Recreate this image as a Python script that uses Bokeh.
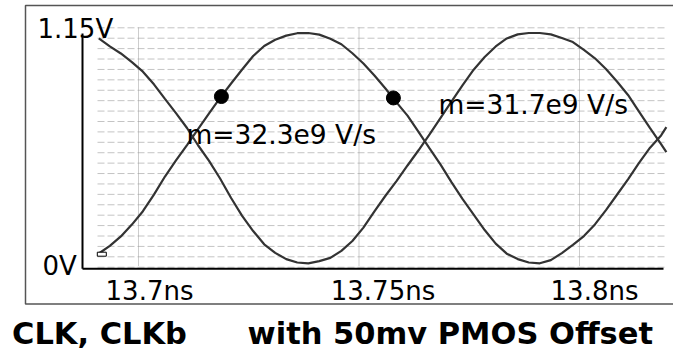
from bokeh.plotting import figure
from bokeh.models import Range1d
from bokeh.core.properties import value
from bokeh.embed import file_html
from bokeh.resources import INLINE

# ---- waveform samples -------------------------------------------------------
time_ns = [13.6910, 13.6935, 13.6960, 13.6985, 13.7010, 13.7035, 13.7060, 13.7085,
           13.7110, 13.7135, 13.7160, 13.7185, 13.7210, 13.7235, 13.7260, 13.7285,
           13.7310, 13.7335, 13.7360, 13.7385, 13.7410, 13.7435, 13.7460, 13.7485,
           13.7510, 13.7535, 13.7560, 13.7585, 13.7610, 13.7635, 13.7660, 13.7685,
           13.7710, 13.7735, 13.7760, 13.7785, 13.7810, 13.7835, 13.7860, 13.7885,
           13.7910, 13.7935, 13.7960, 13.7985, 13.8010, 13.8035, 13.8060, 13.8085,
           13.8110, 13.8135, 13.8160, 13.8185, 13.8197]

clk_v = [0.050, 0.088, 0.135, 0.194, 0.261, 0.344, 0.434, 0.514, 0.591, 0.671,
         0.749, 0.826, 0.898, 0.968, 1.035, 1.085, 1.116, 1.137, 1.149, 1.150,
         1.142, 1.121, 1.094, 1.049, 0.998, 0.938, 0.873, 0.804, 0.738, 0.657,
         0.574, 0.493, 0.405, 0.321, 0.244, 0.167, 0.099, 0.049, 0.022, 0.005,
         0.001, 0.017, 0.052, 0.093, 0.137, 0.195, 0.266, 0.343, 0.420, 0.502,
         0.578, 0.639, 0.680]

clkb_v = [1.123, 1.083, 1.048, 1.005, 0.957, 0.894, 0.821, 0.750, 0.676, 0.590,
          0.512, 0.424, 0.327, 0.238, 0.162, 0.096, 0.053, 0.022, 0.005, 0.001,
          0.012, 0.028, 0.063, 0.112, 0.179, 0.260, 0.338, 0.411, 0.489, 0.565,
          0.644, 0.727, 0.809, 0.890, 0.967, 1.030, 1.083, 1.123, 1.143, 1.150,
          1.150, 1.143, 1.125, 1.105, 1.066, 1.024, 0.970, 0.908, 0.841, 0.758,
          0.675, 0.596, 0.556]

# slope measurement points on CLK
marker_t = [13.7188, 13.7578]
marker_v = [0.833, 0.826]
slope_labels = ["m=32.3e9 V/s", "m=31.7e9 V/s"]

# axis ticks
x_ticks = [13.70, 13.75, 13.80]
x_tick_labels = ["13.7ns", "13.75ns", "13.8ns"]
y_ticks = [0.0, 1.15]
y_tick_labels = ["0V", "1.15V"]

title_parts = ["CLK, CLKb", "with 50mv PMOS Offset"]

# ---- layout (pixel geometry of the canvas) ----------------------------------
W, H = 673, 352
PX_PER_NS = 4410.0
PX_PER_V = 200.43
X_LEFT = 13.7 - 138 / PX_PER_NS      # time at the left canvas edge
V_TOP = 263 / PX_PER_V               # voltage at the top canvas edge
TEXT_RAISE = 9.5                     # baseline correction for the svg text


def xd(px):
    return X_LEFT + px / PX_PER_NS


def yd(py):
    return V_TOP - py / PX_PER_V


def yt(py):
    # baseline position for text drawn at pixel row py
    return yd(py - TEXT_RAISE)


FONT = value("DejaVu Sans")

p = figure(width=W, height=H,
           x_range=Range1d(xd(0), xd(W)), y_range=Range1d(yd(H), yd(0)),
           x_axis_type=None, y_axis_type=None,
           toolbar_location=None, output_backend="svg",
           min_border=0, title=None)
p.outline_line_color = None
p.background_fill_color = "white"
p.border_fill_color = "white"

# panel border (open on the right)
p.quad(left=xd(25), right=xd(720), top=yd(5), bottom=yd(303.5),
       fill_color=None, line_color="#555555", line_width=1.5)

# dashed horizontal grid
hgrid = [yd(27.3 + 10.41 * i) for i in range(24)]
p.multi_line(xs=[[xd(97), xd(665)] for _ in hgrid], ys=[[g, g] for g in hgrid],
             line_color="#c4c4c4", line_dash="7 3", line_width=1)
# dotted vertical grid at the time ticks
p.multi_line(xs=[[t, t] for t in x_ticks], ys=[[yd(265), yd(26.7)] for _ in x_ticks],
             line_color="#9a9a9a", line_dash="1 1", line_width=1)

# axis lines
p.segment(x0=[xd(82), xd(82)], y0=[yd(268.3), yd(268.3)],
          x1=[xd(82), xd(663)], y1=[yd(33), yd(268.3)],
          line_color="black", line_width=2)

# waveforms
p.line(time_ns, clk_v, line_color="#333333", line_width=2.2)
p.line(time_ns, clkb_v, line_color="#333333", line_width=2.2)

# start-of-trace marker
p.rect(x=xd(101.3), y=yd(253.7), width=9, height=4,
       width_units="screen", height_units="screen",
       fill_color="white", line_color="black", line_width=1)

# slope measurement dots and labels
p.scatter(marker_t, marker_v, size=14, color="black")
slope_label_px = [(186, 143.3), (438, 113)]
p.text(x=[xd(a) for a, _ in slope_label_px], y=[yt(b) for _, b in slope_label_px],
       text=slope_labels, text_font=FONT, text_font_size="26.5px",
       text_align="left", text_baseline="alphabetic", text_color="black")

# time tick labels
x_label_shift_px = [11, 24, 15]
p.text(x=[t + s / PX_PER_NS for t, s in zip(x_ticks, x_label_shift_px)],
       y=[yt(300)] * len(x_ticks), text=x_tick_labels,
       text_font=FONT, text_font_size="26px",
       text_align="center", text_baseline="alphabetic", text_color="black")

# voltage tick labels
y_label_left_px = [42, 37]
y_label_shift_px = [12, 5]
p.text(x=[xd(a) for a in y_label_left_px],
       y=[v - (s - TEXT_RAISE) / PX_PER_V for v, s in zip(y_ticks, y_label_shift_px)],
       text=y_tick_labels, text_font=FONT, text_font_size="26px",
       text_align="left", text_baseline="alphabetic", text_color="black")

# caption
p.text(x=[xd(11.5), xd(247)], y=[yt(342), yt(342)], text=title_parts,
       text_font=FONT, text_font_size="30.5px", text_font_style="bold",
       text_align="left", text_baseline="alphabetic", text_color="black")

open("out.html", "w").write(file_html(p, INLINE))
